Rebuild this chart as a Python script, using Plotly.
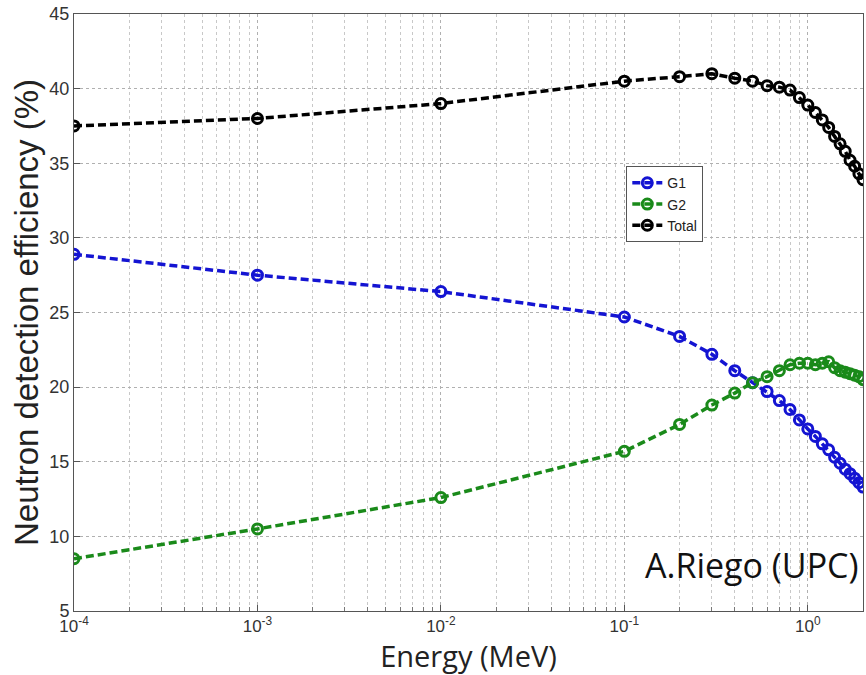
import plotly.graph_objects as go

energy = [1e-4, 1e-3, 1e-2, 0.1, 0.2, 0.3, 0.4, 0.5, 0.6, 0.7, 0.8, 0.9, 1.0,
          1.1, 1.2, 1.3, 1.4, 1.5, 1.6, 1.7, 1.8, 1.9, 2.0]
g1 = [28.9, 27.5, 26.4, 24.7, 23.4, 22.2, 21.1, 20.3, 19.7, 19.1, 18.5, 17.8, 17.2,
      16.7, 16.2, 15.8, 15.3, 14.9, 14.5, 14.2, 13.9, 13.6, 13.3]
g2 = [8.5, 10.5, 12.6, 15.7, 17.5, 18.8, 19.6, 20.3, 20.7, 21.1, 21.5, 21.6, 21.6,
      21.5, 21.6, 21.7, 21.3, 21.1, 21.0, 20.9, 20.8, 20.7, 20.5]
total = [37.5, 38.0, 39.0, 40.5, 40.8, 41.0, 40.7, 40.5, 40.2, 40.1, 39.9, 39.4, 38.9,
         38.4, 37.9, 37.4, 36.8, 36.3, 35.8, 35.2, 34.8, 34.3, 33.9]

xtick_vals = [1e-4, 1e-3, 1e-2, 1e-1, 1]
xtick_text = ["10<sup>-4</sup>", "10<sup>-3</sup>", "10<sup>-2</sup>", "10<sup>-1</sup>", "10<sup>0</sup>"]
ytick_vals = [5, 10, 15, 20, 25, 30, 35, 40, 45]

series = [("G1", g1, "#1414d2"), ("G2", g2, "#1a8a1a"), ("Total", total, "#000000")]

fig = go.Figure()
for name, vals, col in series:
    fig.add_trace(go.Scatter(
        x=energy, y=vals, name=name, mode="lines+markers",
        line=dict(color=col, width=3.5, dash="8px,4px"),
        marker=dict(symbol="circle-open", size=10, color=col, line=dict(width=3, color=col)),
    ))

fig.add_annotation(text="A.Riego (UPC)", xref="paper", yref="paper", x=0.998, y=0.035,
                   xanchor="right", yanchor="bottom", showarrow=False,
                   font=dict(family="Open Sans", size=34, color="#111"))

grid = dict(showgrid=True, gridcolor="#b0b0b0", griddash="dot", gridwidth=1)
fig.update_layout(
    width=866, height=675,
    margin=dict(l=74, r=3, t=14, b=64),
    paper_bgcolor="white", plot_bgcolor="white",
    font=dict(family="Liberation Sans, Arial", color="#333"),
    legend=dict(x=0.70, y=0.745, xanchor="left", yanchor="top",
                bgcolor="white", bordercolor="#555", borderwidth=1,
                font=dict(size=14, color="#222"), itemwidth=30, tracegroupgap=0),
    xaxis=dict(type="log", range=[-4, 0.301], tickvals=xtick_vals, ticktext=xtick_text,
               ticks="inside", ticklen=6, tickcolor="#555", showline=True, linecolor="#555",
               mirror=True, tickfont=dict(size=17, color="#333"),
               minor=dict(dtick="D1", ticks="inside", ticklen=4, tickcolor="#777",
                          showgrid=True, gridcolor="#c8c8c8", griddash="dot", gridwidth=1),
               title=dict(text="Energy (MeV)", font=dict(size=29, family="Open Sans", color="#222"),
                          standoff=0),
               zeroline=False, **grid),
    yaxis=dict(range=[5, 45], tickvals=ytick_vals, ticks="inside", ticklen=6, tickcolor="#555",
               showline=True, linecolor="#555", mirror=True,
               tickfont=dict(size=18, color="#333"),
               title=dict(text="Neutron detection efficiency (%)",
                          font=dict(size=33, family="Liberation Sans, Arial", color="#222"),
                          standoff=0),
               zeroline=False, **grid),
)

fig.write_html("out.html")
